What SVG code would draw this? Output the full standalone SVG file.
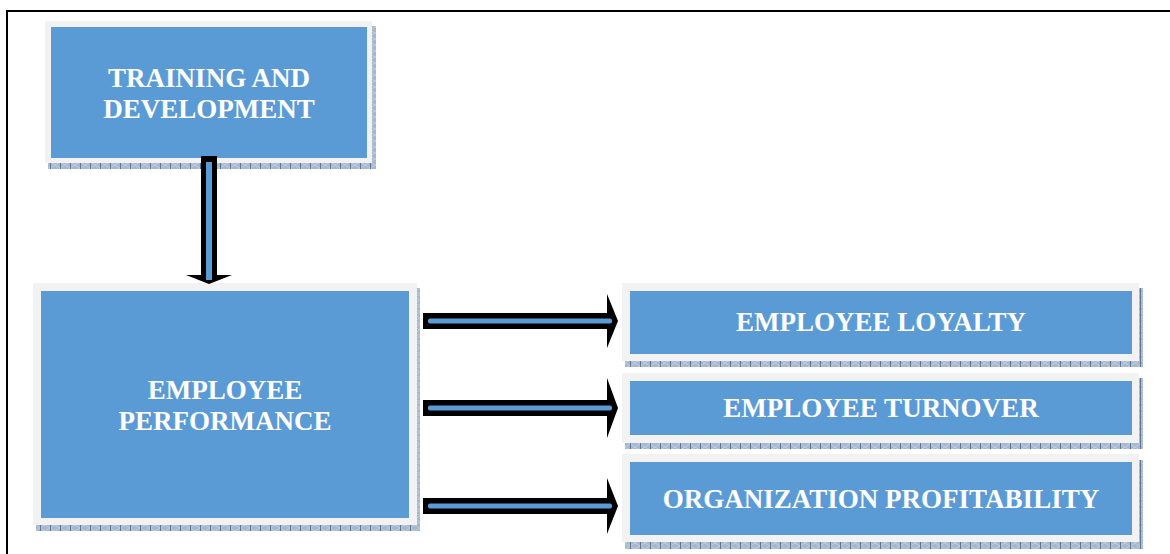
<svg xmlns="http://www.w3.org/2000/svg" width="1170" height="554" viewBox="0 0 1170 554">
<defs>
<pattern id="hatch" width="10" height="6" patternUnits="userSpaceOnUse">
<rect width="10" height="6" fill="#a7b8ce"/>
<path d="M0 0 L10 6 M10 0 L0 6" stroke="#c3cfdd" stroke-width="0.8"/>
<rect x="0" width="1" height="6" fill="#5e7798"/>
</pattern>
<style>
.sh{fill:url(#hatch)}
.gr{fill:#f2f2f2}
.bl{fill:#5b9bd5}
.t{font-family:"Liberation Serif","Times New Roman",serif;font-weight:bold;font-size:27px;fill:#ffffff;text-anchor:middle}
.ar{fill:#000000}
.ai{fill:#5b9bd5}
</style>
</defs>
<rect width="1170" height="554" fill="#ffffff"/>
<g id="frame">
<line x1="7" y1="11" x2="1170" y2="11" stroke="#000" stroke-width="2"/>
<line x1="7" y1="10" x2="7" y2="554" stroke="#000" stroke-width="2"/>
</g>
<g id="training">
<rect class="sh" x="48" y="26" width="328" height="143"/>
<rect class="gr" x="45" y="21" width="327" height="142"/>
<rect class="bl" x="51" y="27" width="316" height="131"/>
<text class="t" x="209" y="87">TRAINING AND</text>
<text class="t" x="209" y="118">DEVELOPMENT</text>
</g>
<g id="performance">
<rect class="sh" x="36" y="288" width="384" height="243"/>
<rect class="gr" x="33" y="283" width="384" height="242"/>
<rect class="bl" x="41" y="291" width="368" height="227"/>
<text class="t" x="225" y="399">EMPLOYEE</text>
<text class="t" x="225" y="430">PERFORMANCE</text>
</g>
<g id="loyalty">
<rect class="sh" x="625" y="288" width="518" height="79"/>
<rect class="gr" x="622" y="283" width="517" height="78"/>
<rect class="bl" x="630" y="291" width="502" height="63"/>
<text class="t" x="881" y="331">EMPLOYEE LOYALTY</text>
</g>
<g id="turnover">
<rect class="sh" x="625" y="378" width="518" height="71"/>
<rect class="gr" x="622" y="373" width="517" height="70"/>
<rect class="bl" x="630" y="381" width="502" height="54"/>
<text class="t" x="881" y="417">EMPLOYEE TURNOVER</text>
</g>
<g id="profitability">
<rect class="sh" x="625" y="460" width="518" height="89"/>
<rect class="gr" x="622" y="454" width="517" height="88"/>
<rect class="bl" x="630" y="462" width="502" height="73"/>
<text class="t" x="881" y="508">ORGANIZATION PROFITABILITY</text>
</g>
<g id="connectors">
<g id="arrow-down">
<rect class="ar" x="201" y="156" width="16" height="120"/>
<polygon class="ar" points="186,275 232,275 209,284"/>
<rect class="ai" x="206" y="162" width="6" height="118"/>
</g>
<g id="arrow-loyalty">
<rect class="ar" x="423" y="313" width="186" height="16"/>
<polygon class="ar" points="607,294 618,321 607,348"/>
<rect class="ai" x="428" y="318.5" width="184" height="5" rx="2"/>
</g>
<g id="arrow-turnover">
<rect class="ar" x="423" y="400" width="186" height="16"/>
<polygon class="ar" points="607,378 618,408 607,438"/>
<rect class="ai" x="428" y="405.5" width="184" height="5" rx="2"/>
</g>
<g id="arrow-profit">
<rect class="ar" x="423" y="498" width="186" height="16"/>
<polygon class="ar" points="607,478 618,506 607,534"/>
<rect class="ai" x="428" y="503.5" width="184" height="5" rx="2"/>
</g>
</g>
</svg>
